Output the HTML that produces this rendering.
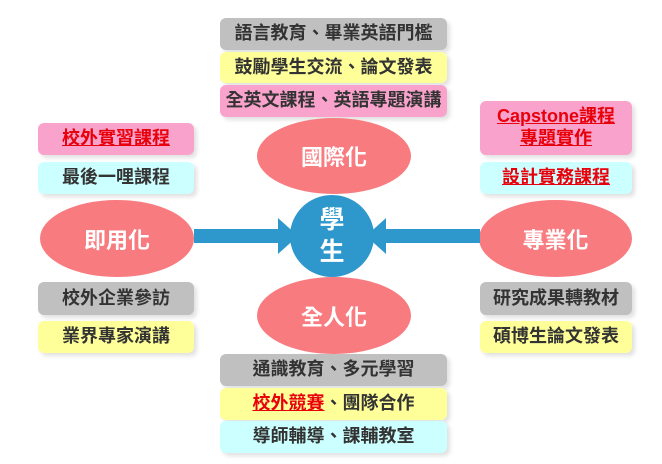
<!DOCTYPE html>
<html><head><meta charset="utf-8"><style>
body{margin:0;width:662px;height:464px;background:#fff;position:relative;overflow:hidden;font-family:"Liberation Sans","Noto Sans CJK TC",sans-serif;}
.b{position:absolute;border-radius:6px;display:flex;align-items:center;justify-content:center;text-align:center;font-size:18px;font-weight:bold;color:#333;box-shadow:3px 3px 4px rgba(0,0,0,0.12);line-height:1.22;}
.g{background:#c0c0c0}.y{background:#ffff99}.p{background:#f9a3cc}.c{background:#ccffff}
.r{color:#e8000b;text-decoration:underline;}
.e{position:absolute;border-radius:50%;background:#f87b80;color:#fff;font-size:22px;font-weight:bold;display:flex;align-items:center;justify-content:center;}
</style></head><body>
<div class="b g" style="left:220px;top:18px;width:227px;height:32px">語言教育、畢業英語門檻</div>
<div class="b y" style="left:220px;top:52px;width:227px;height:31px">鼓勵學生交流、論文發表</div>
<div class="b p" style="left:220px;top:85px;width:227px;height:32px">全英文課程、英語專題演講</div>

<div class="b p" style="left:38px;top:123px;width:156px;height:32px"><span class="r">校外實習課程</span></div>
<div class="b c" style="left:38px;top:162px;width:156px;height:32px">最後一哩課程</div>
<div class="b p" style="left:480px;top:101px;width:152px;height:54px"><span class="r">Capstone課程<br>專題實作</span></div>
<div class="b c" style="left:480px;top:162px;width:152px;height:32px"><span class="r">設計實務課程</span></div>

<div class="e" style="left:257px;top:118px;width:154px;height:76px">國際化</div>
<div class="e" style="left:40px;top:200px;width:154px;height:77px">即用化</div>
<div class="e" style="left:479px;top:200px;width:153px;height:77px">專業化</div>
<div class="e" style="left:257px;top:277px;width:154px;height:77px">全人化</div>

<svg style="position:absolute;left:0;top:0" width="662" height="464">
<polygon points="194,229 278,229 278,218 298,236 278,254 278,243 194,243" fill="#2e98cc"/>
<polygon points="480,229 386,229 386,218 366,236 386,254 386,243 480,243" fill="#2e98cc"/>
</svg>
<div class="e" style="left:290px;top:195px;width:84px;height:82px;background:#2e98cc;font-size:25px;line-height:1.3;flex-direction:column">學<br>生</div>

<div class="b g" style="left:38px;top:282px;width:156px;height:33px">校外企業參訪</div>
<div class="b y" style="left:38px;top:321px;width:156px;height:32px">業界專家演講</div>
<div class="b g" style="left:480px;top:282px;width:152px;height:33px">研究成果轉教材</div>
<div class="b y" style="left:480px;top:321px;width:152px;height:32px">碩博生論文發表</div>

<div class="b g" style="left:220px;top:354px;width:227px;height:32px">通識教育、多元學習</div>
<div class="b y" style="left:220px;top:388px;width:227px;height:32px"><span class="r">校外競賽</span>、團隊合作</div>
<div class="b c" style="left:220px;top:421px;width:227px;height:32px">導師輔導、課輔教室</div>
</body></html>
